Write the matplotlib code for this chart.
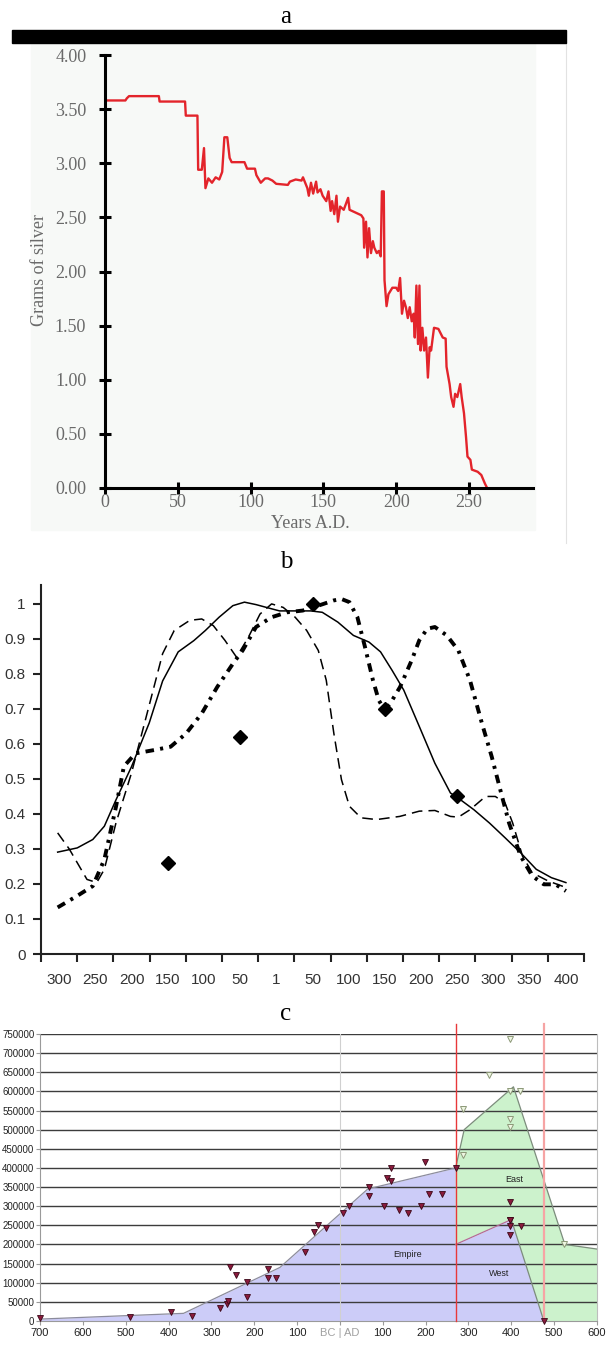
import matplotlib
matplotlib.use("Agg")
import matplotlib.pyplot as plt
import numpy as np
from matplotlib.patches import Rectangle
from matplotlib.lines import Line2D

W, H = 610, 1345

# ---- panel a: silver content of the denarius ----
years_a = [1, 14, 15, 16.5, 37, 37.5, 55, 55.5, 63.5, 64, 66.5, 68, 69, 71, 73.5, 76, 78.5, 80.5,
           82, 84, 85.6, 87, 95.8, 97.6, 103, 104, 107, 110, 112, 115, 117.6, 125.6, 127, 131,
           135, 136, 139, 140, 141.5, 143, 145, 146, 148, 149.5, 152, 153.5, 155, 156, 157.5,
           159, 160, 161.5, 164, 167, 168, 176, 177.5, 178, 179.3, 180.3, 181.4, 182.7, 184,
           185, 186.7, 188, 189.4, 190.2, 191.5, 192, 193.4, 194.7, 197.4, 200, 201.4, 202.7,
           204, 205.4, 206.7, 208, 209.3, 210.7, 212, 212.8, 213.9, 215, 216, 216.8, 218,
           219.2, 220.5, 221.8, 223, 224, 226, 229, 232, 234, 234.6, 236.7, 237.8, 239.4,
           240.5, 242, 244, 245, 246.6, 248, 249, 251, 252, 256, 258.5, 261, 262.5]
silver_a = [3.58, 3.58, 3.60, 3.62, 3.62, 3.57, 3.57, 3.44, 3.44, 2.94, 2.94, 3.14, 2.77, 2.86,
            2.82, 2.87, 2.85, 2.92, 3.24, 3.24, 3.05, 3.01, 3.01, 2.95, 2.95, 2.89, 2.82, 2.86,
            2.86, 2.84, 2.81, 2.80, 2.83, 2.85, 2.84, 2.87, 2.77, 2.70, 2.82, 2.72, 2.83, 2.73,
            2.76, 2.70, 2.65, 2.74, 2.56, 2.65, 2.53, 2.70, 2.46, 2.60, 2.57, 2.68, 2.57, 2.52,
            2.49, 2.22, 2.46, 2.13, 2.40, 2.17, 2.28, 2.22, 2.17, 2.19, 2.14, 2.74, 2.74, 1.92,
            1.68, 1.79, 1.85, 1.85, 1.82, 1.94, 1.61, 1.73, 1.67, 1.57, 1.67, 1.54, 1.61, 1.39,
            1.87, 1.33, 1.87, 1.27, 1.48, 1.27, 1.39, 1.02, 1.30, 1.27, 1.48, 1.47, 1.39, 1.38,
            1.12, 0.96, 0.84, 0.75, 0.87, 0.84, 0.96, 0.84, 0.69, 0.47, 0.29, 0.26, 0.17, 0.15,
            0.12, 0.04, 0.0]
a_yticks = [0, 0.5, 1.0, 1.5, 2.0, 2.5, 3.0, 3.5, 4.0]
a_xticks = [0, 50, 100, 150, 200, 250]

# ---- panel b: index curves (x = position on the category axis) ----
b_labels = ["300", "250", "200", "150", "100", "50", "1", "50", "100", "150", "200", "250",
            "300", "350", "400"]
solid_x = [-0.04, 0.5, 0.93, 1.25, 1.57, 2.0, 2.49, 2.86, 3.29, 3.72, 4.04, 4.42, 4.8, 5.12,
           5.44, 5.87, 6.09, 6.95, 7.27, 7.7, 8.13, 8.56, 8.88, 9.2, 9.52, 9.95, 10.38, 10.81,
           11.03, 11.46, 11.89, 12.32, 12.75, 13.18, 13.6, 14.0]
solid_y = [0.291, 0.303, 0.327, 0.365, 0.44, 0.535, 0.66, 0.78, 0.863, 0.895, 0.924, 0.962,
           0.995, 1.005, 0.998, 0.986, 0.98, 0.98, 0.976, 0.948, 0.91, 0.891, 0.863, 0.81,
           0.754, 0.65, 0.545, 0.46, 0.445, 0.412, 0.374, 0.332, 0.289, 0.242, 0.218, 0.204]
dash_x = [-0.04, 0.28, 0.77, 1.04, 1.25, 1.57, 2.0, 2.43, 2.86, 3.18, 3.61, 3.94, 4.26, 4.58,
          4.9, 5.23, 5.55, 5.87, 6.19, 6.52, 6.84, 7.16, 7.38, 7.59, 7.8, 8.02, 8.34, 8.77,
          9.41, 9.95, 10.38, 10.81, 11.03, 11.35, 11.78, 12.05, 12.32, 12.53, 12.8, 13.07,
          13.5, 14.0]
dash_y = [0.346, 0.30, 0.213, 0.204, 0.242, 0.374, 0.517, 0.687, 0.858, 0.924, 0.953, 0.957,
          0.938, 0.896, 0.848, 0.905, 0.971, 1.0, 0.99, 0.962, 0.924, 0.867, 0.782, 0.63,
          0.498, 0.422, 0.389, 0.384, 0.393, 0.408, 0.41, 0.393, 0.391, 0.412, 0.45, 0.45,
          0.431, 0.374, 0.28, 0.232, 0.209, 0.19]
heavy_x = [-0.04, 0.5, 0.93, 1.25, 1.57, 1.79, 2.11, 2.65, 3.08, 3.51, 3.94, 4.37, 4.8, 5.07,
           5.44, 5.87, 6.3, 6.73, 7.16, 7.59, 7.8, 8.02, 8.24, 8.45, 8.67, 8.83, 8.99, 9.15,
           9.42, 9.74, 9.95, 10.17, 10.38, 10.71, 11.03, 11.35, 11.68, 11.95, 12.21, 12.43,
           12.75, 13.07, 13.39, 13.71, 14.0]
heavy_y = [0.133, 0.166, 0.194, 0.27, 0.42, 0.536, 0.573, 0.583, 0.592, 0.63, 0.687, 0.763,
           0.829, 0.867, 0.934, 0.962, 0.976, 0.981, 0.995, 1.01, 1.014, 1.005, 0.962, 0.877,
           0.782, 0.725, 0.697, 0.716, 0.763, 0.839, 0.896, 0.929, 0.934, 0.91, 0.867, 0.782,
           0.659, 0.564, 0.46, 0.374, 0.28, 0.223, 0.199, 0.199, 0.18]
diamond_x = [3, 5, 7, 9, 11]
diamond_y = [0.26, 0.62, 1.0, 0.70, 0.45]

# ---- panel c: population estimates ----
empire_years = [-700, -365, -140, 65, 270]
empire_pop = [5000, 20000, 140000, 345000, 400000]
west_years = [270, 400, 476]
west_pop = [200000, 265000, 0]
east_years = [270, 290, 405, 525, 600]
east_pop = [400000, 500000, 612000, 200000, 188000]
pts_years = [-700, -490, -395, -345, -281, -264, -262, -256, -242, -217, -218, -169, -169,
             -149, -81, -61, -51, -32, 7, 22, 69, 69, 104, 110, 119, 119, 137, 160, 190, 198,
             209, 239, 270, 398, 398, 398, 398, 398, 423, 476]
pts_pop = [7000, 9600, 24000, 12000, 33000, 44000, 53000, 142000, 121000, 101000, 64000,
           136000, 112000, 113000, 181000, 232000, 251000, 243000, 281000, 301000, 349000,
           326000, 301000, 375000, 367000, 399000, 291000, 281000, 301000, 415000, 332000,
           332000, 400000, 312000, 264000, 247000, 225000, 264000, 249000, 0]
east_pts_years = [288, 288, 348, 398, 398, 421, 398, 398, 524]
east_pts_pop = [554000, 434000, 644000, 737000, 602000, 602000, 528000, 506000, 201000]
c_xticks = [-700, -600, -500, -400, -300, -200, -100, 0, 100, 200, 300, 400, 500, 600]
c_xlabels = ["700", "600", "500", "400", "300", "200", "100", "BC | AD", "100", "200", "300",
             "400", "500", "600"]


def rect(x0, y0, x1, y1):
    return [x0 / W, 1 - y1 / H, (x1 - x0) / W, (y1 - y0) / H]


def fig_text(x, y, s, **kw):
    fig.text(x / W, 1 - y / H, s, **kw)


fig = plt.figure(figsize=(W / 100, H / 100), dpi=100)
serif = "Liberation Serif"
sans = "Liberation Sans"

# panel a frame
fig.patches.append(Rectangle((31 / W, 1 - 530 / H), 504 / W, 487 / H,
                             transform=fig.transFigure, color="#f7f9f7", zorder=-2))
fig.patches.append(Rectangle((12 / W, 1 - 43 / H), 554 / W, 13 / H,
                             transform=fig.transFigure, color="black", zorder=-1))
fig.add_artist(Line2D([566 / W, 566 / W], [1 - 43 / H, 1 - 543 / H], color="#e2e2e2", lw=0.8,
                      zorder=-1))
fig_text(286, 17, "a", ha="center", va="center", fontsize=18, family=serif)

ax = fig.add_axes(rect(105, 55, 533, 488))
ax.patch.set_alpha(0)
ax.plot(years_a, silver_a, color="#e3242b", lw=1.7)
ax.set_xlim(0, 294)
ax.set_ylim(0, 4)
for s in ["top", "right"]:
    ax.spines[s].set_visible(False)
for s in ["left", "bottom"]:
    ax.spines[s].set_linewidth(2.2)
ax.set_yticks(a_yticks)
ax.set_yticklabels([f"{v:.2f}" for v in a_yticks])
ax.set_xticks(a_xticks)
ax.tick_params(direction="inout", length=9, width=2.2, color="black", labelcolor="#6a6a6a",
               labelsize=13)
ax.tick_params(axis="x", pad=0)
ax.tick_params(axis="y", pad=9)
for lab in ax.get_xticklabels() + ax.get_yticklabels():
    lab.set_family(serif)
fig_text(39, 270, "Grams of silver", rotation=90, ha="center", va="center", fontsize=13,
         family=serif, color="#6a6a6a")
fig_text(310, 523, "Years A.D.", ha="center", va="center", fontsize=13, family=serif,
         color="#6a6a6a")

# panel b
fig_text(286, 562, "b", ha="center", va="center", fontsize=18, family=serif)
axb = fig.add_axes(rect(41, 585, 584, 954))
axb.plot(solid_x, solid_y, color="black", lw=1.1)
axb.plot(dash_x, dash_y, color="black", lw=1.1, ls=(0, (7, 4)))
axb.plot(heavy_x, heavy_y, color="black", lw=2.8, ls=(0, (2.2, 1.6, 0.8, 1.6)))
axb.plot(diamond_x, diamond_y, ls="none", marker="D", ms=7.5, color="black")
axb.set_xlim(-0.5, 14.5)
axb.set_ylim(0, 1.054)
for s in ["top", "right"]:
    axb.spines[s].set_visible(False)
for s in ["left", "bottom"]:
    axb.spines[s].set_linewidth(1.5)
    axb.spines[s].set_color("#222222")
axb.set_yticks(np.arange(0, 1.01, 0.1))
axb.set_yticklabels(["0"] + [f"{v:.1f}" for v in np.arange(0.1, 0.95, 0.1)] + ["1"])
axb.set_xticks(range(15))
axb.set_xticklabels(b_labels)
axb.set_xticks(np.arange(-0.5, 14.6, 1), minor=True)
axb.tick_params(axis="x", which="major", length=0, pad=14)
axb.tick_params(axis="x", which="minor", length=6, width=1.5, color="#222222")
axb.tick_params(axis="y", length=6, width=1.5, color="#222222", pad=5)
axb.tick_params(labelsize=11, labelcolor="#333333")
for lab in axb.get_xticklabels() + axb.get_yticklabels():
    lab.set_family(sans)

# panel c
fig_text(286, 1014, "c", ha="center", va="center", fontsize=18, family=serif)
axc = fig.add_axes(rect(40, 1034, 597, 1321))
axc.set_xlim(-700, 600)
axc.set_ylim(0, 750000)
axc.fill_between(empire_years, empire_pop, color="#ccccf8", lw=0, zorder=1)
axc.fill_between(west_years, west_pop, color="#ccccf8", lw=0, zorder=1)
east_poly = list(zip(east_years, east_pop)) + [(600, 0)] + list(zip(west_years[::-1], west_pop[::-1]))
axc.fill([p[0] for p in east_poly], [p[1] for p in east_poly], color="#ccf2cc", lw=0, zorder=1)
for v in range(50000, 750001, 50000):
    axc.axhline(v, color="#3c3c3c", lw=1.0, zorder=2)
axc.plot(empire_years, empire_pop, color="#8c8c9c", lw=0.9, zorder=3)
axc.plot(east_years, east_pop, color="#7c8c7c", lw=0.9, zorder=3)
axc.plot(west_years[:2], west_pop[:2], color="#b46a96", lw=0.9, zorder=3)
axc.plot(west_years[1:], west_pop[1:], color="#7c8c7c", lw=0.9, zorder=3)
axc.axvline(0, color="#d0d0d0", lw=0.8, zorder=3)
axc.plot([270, 270], [0, 775000], color="#e8383a", lw=1.0, zorder=4, clip_on=False)
axc.plot([476, 476], [0, 775000], color="#f6a4a4", lw=1.6, zorder=4, clip_on=False)
axc.plot(pts_years, pts_pop, ls="none", marker="v", ms=4.5, mfc="#8a1a3c", mec="#3a0818",
         mew=0.6, zorder=5, clip_on=False)
axc.plot(east_pts_years, east_pts_pop, ls="none", marker="v", ms=4.5, mfc="#eef6e2",
         mec="#8c9878", mew=0.7, zorder=5, clip_on=False)
axc.text(158, 175000, "Empire", fontsize=6.5, ha="center", va="center", color="#222222",
         family=sans, zorder=6)
axc.text(407, 371000, "East", fontsize=6.5, ha="center", va="center", color="#222222",
         family=sans, zorder=6)
axc.text(372, 125000, "West", fontsize=6.5, ha="center", va="center", color="#222222",
         family=sans, zorder=6)
axc.spines["top"].set_visible(False)
axc.spines["left"].set_color("#9a9a9a")
axc.spines["bottom"].set_color("#9a9a9a")
axc.spines["right"].set_color("#bdbdbd")
axc.set_yticks(range(0, 750001, 50000))
axc.set_yticklabels([str(v) for v in range(0, 750001, 50000)])
axc.set_xticks(c_xticks)
axc.set_xticklabels(c_xlabels)
axc.tick_params(length=3, color="#9a9a9a", labelsize=8, labelcolor="#222222", pad=2)
axc.tick_params(axis="y", labelsize=7, pad=1)
for lab in axc.get_xticklabels() + axc.get_yticklabels():
    lab.set_family(sans)
axc.get_xticklabels()[7].set_color("#a0a0a0")

fig.savefig("out.png", dpi=100)
